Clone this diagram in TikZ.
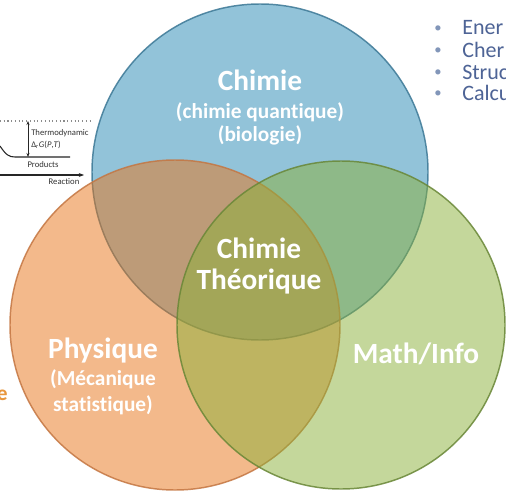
\documentclass[tikz,border=0pt]{standalone}
\usepackage{fontspec}
\setmainfont{Carlito}[Ligatures={NoCommon}]
\usetikzlibrary{arrows.meta}
\definecolor{cblue}{RGB}{39,137,181}
\definecolor{corange}{RGB}{233,117,25}
\definecolor{cgreen}{RGB}{139,177,57}
\definecolor{eblue}{RGB}{60,120,150}
\definecolor{eorange}{RGB}{196,118,66}
\definecolor{egreen}{RGB}{105,135,55}
\definecolor{bullettext}{RGB}{78,100,150}
\definecolor{bulletdot}{RGB}{130,150,185}
\definecolor{edgeorange}{RGB}{232,150,60}
\tikzset{
  venn/.style={fill opacity=0.5, draw opacity=0.85, line width=1.1pt},
  bigtxt/.style={text=white, font=\bfseries\fontsize{22}{24}\selectfont, inner sep=0pt},
  subtxt/.style={text=white, font=\bfseries\fontsize{16}{18}\selectfont, inner sep=0pt},
  tinytxt/.style={text=black!80, font=\fontsize{6.5}{7}\selectfont, inner sep=0pt},
  bultxt/.style={text=bullettext, font=\fontsize{16.5}{17}\selectfont, inner sep=0pt, anchor=west},
  buldot/.style={text=bulletdot, font=\fontsize{11}{12}\selectfont, inner sep=0pt},
}
\begin{document}
\begin{tikzpicture}[x=0.75pt,y=-0.75pt]
\useasboundingbox (0,0) rectangle (506,492);
\clip (0,0) rectangle (506,492);
\fill[white] (0,0) rectangle (506,492);
% Venn circles
\filldraw[venn, fill=cblue, draw=eblue] (260,172) circle (168);
\filldraw[venn, fill=corange, draw=eorange] (175,325) circle (165);
\filldraw[venn, fill=cgreen, draw=egreen] (341,325) circle (164);
% texts
\node[bigtxt] (chimie) at (260,80) {Chimie};
\node[subtxt] (quant) at (260,112) {(chimie quantique)};
\node[subtxt] (bio) at (260,135) {(biologie)};
\node[bigtxt] (ct1) at (259,248) {Chimie};
\node[bigtxt] (ct2) at (259,282) {Théorique};
\node[bigtxt] (phys) at (103,351) {Physique};
\node[subtxt] (meca) at (103,379) {(Mécanique};
\node[subtxt] (stat) at (103,405) {statistique)};
\node[bigtxt] (math) at (416,354) {Math/Info};
% left energy diagram fragment
\coordinate (dl) at (0,121);
\coordinate (dr) at (90,121);
\coordinate (at) at (28,121);
\coordinate (ab) at (28,157);
\coordinate (c0) at (0,146);
\coordinate (c1) at (15,157);
\coordinate (pr) at (70,157);
\coordinate (x0) at (0,175);
\coordinate (x1) at (84,175);
\draw[black!45, dotted, line width=0.8pt] (dl) -- (dr);
\draw[black!85, line width=0.5pt, {Stealth[length=3pt]}-{Stealth[length=3pt]}] (at) -- (ab);
\draw[black!85, line width=0.8pt] (c0) .. controls (6,155) and (9,157) .. (c1) -- (pr);
\draw[black!85, line width=0.8pt, -{Stealth[length=4pt]}] (x0) -- (x1);
\node[tinytxt, anchor=west] (thermo) at (31,133) {Thermodynamic};
\node[tinytxt, anchor=west] (drg) at (31,145) {Δ\textsubscript{r}\textit{G}(\textit{P},\textit{T})};
\node[tinytxt] (prod) at (43,165) {Products};
\node[tinytxt] (reac) at (64,182) {Reaction};
% orange edge fragment
\node[text=edgeorange, font=\bfseries\fontsize{16}{18}\selectfont, inner sep=0pt, anchor=east] (efrag) at (8,395) {e};
% right bullet fragments
\node[buldot] (b1) at (438,29) {•};
\node[buldot] (b2) at (438,51) {•};
\node[buldot] (b3) at (438,73) {•};
\node[buldot] (b4) at (438,94) {•};
\node[bultxt] (t1) at (462,28) {Ener};
\node[bultxt] (t2) at (462,50) {Cher};
\node[bultxt] (t3) at (462,72) {Struc};
\node[bultxt] (t4) at (462,93) {Calcu};
\end{tikzpicture}
\end{document}
